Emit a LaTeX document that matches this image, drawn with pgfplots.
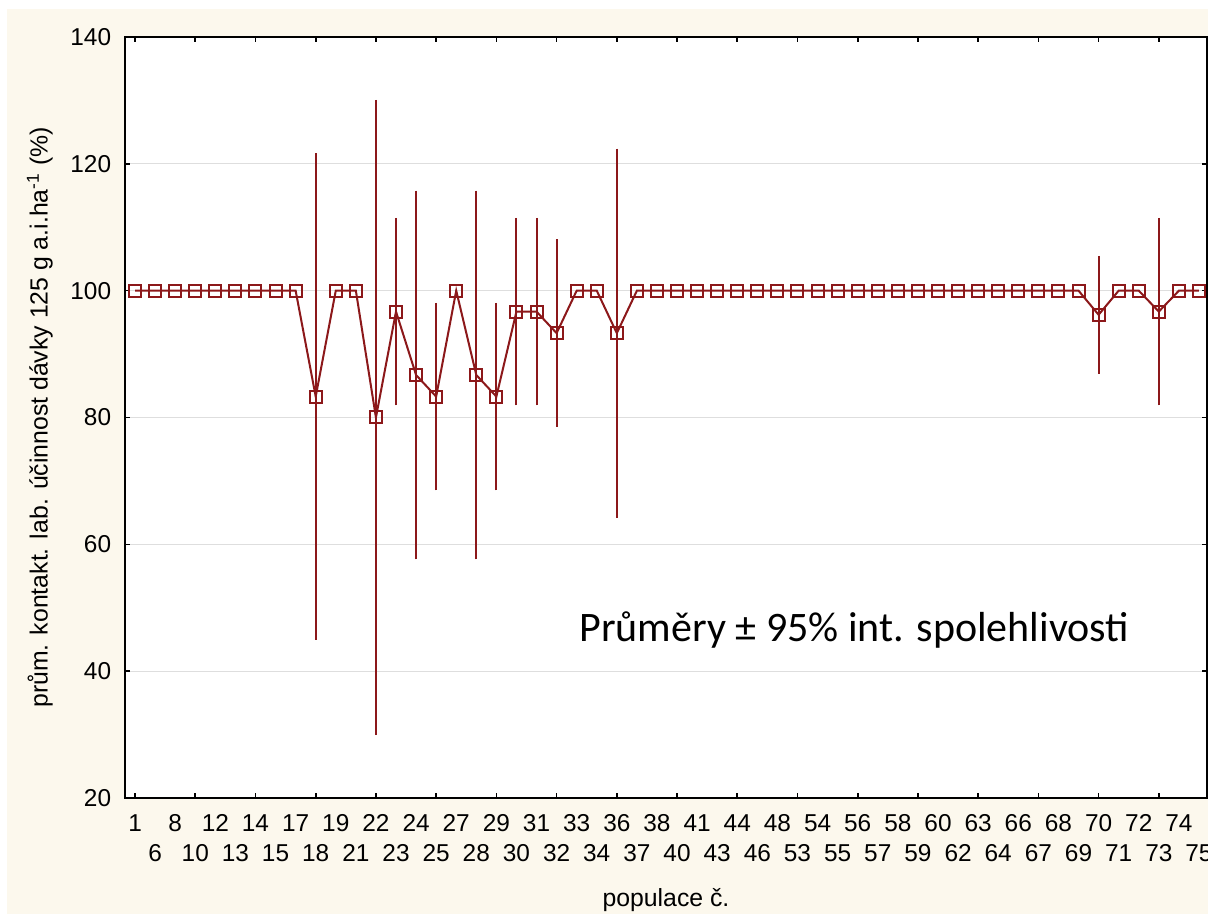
\documentclass[border=0pt]{standalone}
\usepackage{fontspec}
\setmainfont{Liberation Sans}
\newfontfamily\carlito{Carlito}
\usepackage{pgfplots}
\usepackage{pgfplotstable}
\pgfplotsset{compat=1.18}

\definecolor{dred}{RGB}{140,24,26}
\definecolor{cream}{RGB}{252,248,237}

% mean per population (x = position of the category)
\pgfplotstableread{
i m
0 100
1 100
2 100
3 100
4 100
5 100
6 100
7 100
8 100
9 83.3
10 100
11 100
12 80.0
13 96.7
14 86.7
15 83.3
16 100
17 86.7
18 83.3
19 96.7
20 96.7
21 93.3
22 100
23 100
24 93.3
25 100
26 100
27 100
28 100
29 100
30 100
31 100
32 100
33 100
34 100
35 100
36 100
37 100
38 100
39 100
40 100
41 100
42 100
43 100
44 100
45 100
46 100
47 100
48 96.2
49 100
50 100
51 96.7
52 100
53 100
}\meantab

% populations with a non-zero 95% interval
\pgfplotstableread{
i m e
9 83.3 38.0
12 80.0 49.7
13 96.7 14.4
14 86.7 28.7
15 83.3 14.4
17 86.7 28.7
18 83.3 14.4
19 96.7 14.4
20 96.7 14.4
21 93.3 14.4
24 93.3 28.7
48 96.2 8.9
51 96.7 14.4
}\errtab

\begin{document}
\begin{tikzpicture}
\fill[white] (-62.5pt,-58pt) rectangle (541.5pt,399pt);
\fill[cream] (-59pt,-58pt) rectangle (541.5pt,394.5pt);
\begin{axis}[
    at={(0,0)}, anchor=south west,
    scale only axis,
    width=541pt, height=380.5pt,
    xmin=-0.5, xmax=53.4,
    ymin=20, ymax=140,
    ytick={20,40,...,140},
    axis background/.style={fill=white},
    axis line style={line width=0.9pt},
    ymajorgrids,
    grid style={line width=0.5pt, black!13},
    tick style={line width=0.8pt, black},
    major tick length=2.5pt,
    minor tick length=2.5pt,
    xtick={0,2,...,52},
    xticklabels={1,8,12,14,17,19,22,24,27,29,31,33,36,38,41,44,48,54,56,58,60,63,66,68,70,72,74},
    extra x ticks={1,3,...,53},
    extra x tick labels={6,10,13,15,18,21,23,25,28,30,32,34,37,40,43,46,53,55,57,59,62,64,67,69,71,73,75},
    extra x tick style={xticklabel style={yshift=-15pt}},
    every major x tick/.append style={draw=none},
    minor xtick={0,3,...,51},
    tick label style={font=\fontsize{12.2}{14}\selectfont},
    xticklabel style={yshift=-4.6pt},
    yticklabel style={xshift=-3.4pt},
    /pgf/number format/assume math mode=true,
    xlabel={populace č.},
    ylabel={prům. kontakt. lab. účinnost dávky 125 g a.i.ha\textsuperscript{-1} (\%)},
    xlabel style={at={(axis description cs:0.5,-0.134)}, anchor=center, font=\fontsize{12.4}{15}\selectfont},
    ylabel style={at={(axis description cs:-0.0786,0.5)}, anchor=center, font=\fontsize{12.4}{15}\selectfont},
]
\addplot[draw=none, mark=none,
    error bars/.cd, y dir=both, y explicit,
    error bar style={draw=dred, line width=1pt},
    error mark options={draw=dred, mark size=1.2pt, line width=1pt}]
    table[x=i, y=m, y error=e] {\errtab};
\addplot[dred, line width=1pt, mark=square, mark size=3pt, mark options={solid, line width=1pt}]
    table[x=i, y=m] {\meantab};
\node[anchor=base, font=\carlito\fontsize{21}{25}\selectfont] at (axis cs:35.83,44.6)
    {Průměry ± 95\% int. spolehlivosti};
\end{axis}
\pgfresetboundingbox
\useasboundingbox (-62.5pt,-58pt) rectangle (541.5pt,399pt);
\end{tikzpicture}
\end{document}
